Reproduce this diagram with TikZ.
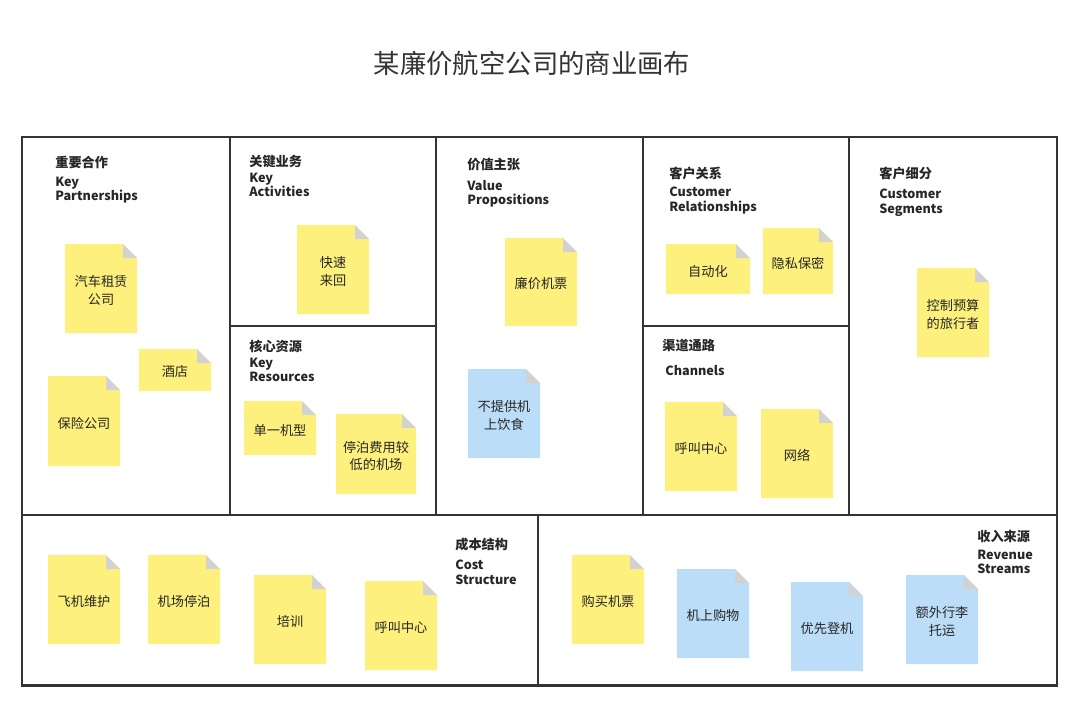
\documentclass[tikz,border=0pt]{standalone}
\usepackage{fontspec}
\setmainfont{Noto Sans CJK SC}
\definecolor{noteyellow}{HTML}{FDF07C}
\definecolor{noteblue}{HTML}{BCDDF7}
\definecolor{frame}{HTML}{333333}
% sticky note: name, x1, y1, x2, y2, colour, text
\newcommand\note[7]{%
  \fill[#6] (#2,#3) -- (#4-14,#3) -- (#4,#3+14) -- (#4,#5) -- (#2,#5) -- cycle;
  \fill[gray!35] (#4-14,#3) -- (#4-14,#3+14) -- (#4,#3+14) -- cycle;
  \node[notetext] (#1) at ({(#2+#4)/2},{(#3+#5)/2+2}) {#7};}
\begin{document}
\begin{tikzpicture}[x=0.02cm,y=-0.02cm,
    notetext/.style={font=\fontsize{7.5}{10}\selectfont, align=center, text=black!85},
    head/.style={anchor=west, font=\fontsize{7.5}{8}\selectfont\bfseries, text=black!85, inner sep=0pt},
    eng/.style={anchor=north west, align=left, font=\fontsize{7.2}{8}\selectfont\bfseries, text=black!85, inner sep=0pt},
    box/.style={draw=frame, line width=1.7pt}]
\useasboundingbox (0,0) rectangle (1080,707);
\node[font=\fontsize{15}{18}\selectfont, text=black!80] (title) at (532,63) {某廉价航空公司的商业画布};

% canvas frame
\draw[box] (22,137) rectangle (1057,685);
\draw[box] (22,515) -- (1057,515);
\draw[box] (230,137) -- (230,515);
\draw[box] (436,137) -- (436,515);
\draw[box] (643,137) -- (643,515);
\draw[box] (849,137) -- (849,515);
\draw[box] (230,326) -- (436,326);
\draw[box] (643,326) -- (849,326);
\draw[box] (538,515) -- (538,685);

% headings
\node[head] (kp) at (55,162) {重要合作};
\node[eng] (kpe) at (55,177) {Key\\Partnerships};
\node[head] (ka) at (249,162) {关键业务};
\node[eng] (kae) at (249,173) {Key\\Activities};
\node[head] (vp) at (467,165) {价值主张};
\node[eng] (vpe) at (467,180) {Value\\Propositions};
\node[head] (cr) at (669,173) {客户关系};
\node[eng] (cre) at (669,187) {Customer\\Relationships};
\node[head] (cs) at (879,173) {客户细分};
\node[eng] (cse) at (879,189) {Customer\\Segments};
\node[head] (kr) at (249,346) {核心资源};
\node[eng] (kre) at (249,358) {Key\\Resources};
\node[head] (ch) at (662,346) {渠道通路};
\node[eng] (che) at (665,365) {Channels};
\node[head] (co) at (455,544) {成本结构};
\node[eng] (coe) at (455,560) {Cost\\Structure};
\node[head] (rs) at (977,537) {收入来源};
\node[eng] (rse) at (977,550) {Revenue\\Streams};

% notes
\note{car}{65}{244}{137}{333}{noteyellow}{汽车租赁\\公司}
\note{hotel}{139}{349}{211}{391}{noteyellow}{酒店}
\note{insur}{48}{376}{120}{466}{noteyellow}{保险公司}
\note{quick}{297}{225}{369}{314}{noteyellow}{快速\\来回}
\note{fleet}{244}{401}{316}{455}{noteyellow}{单一机型}
\note{airport}{336}{414}{416}{494}{noteyellow}{停泊费用较\\低的机场}
\note{cheap}{505}{238}{577}{326}{noteyellow}{廉价机票}
\note{nofood}{468}{369}{540}{458}{noteblue}{不提供机\\上饮食}
\note{auto}{666}{244}{750}{294}{noteyellow}{自动化}
\note{privacy}{763}{228}{833}{294}{noteyellow}{隐私保密}
\note{call}{665}{402}{737}{491}{noteyellow}{呼叫中心}
\note{web}{761}{409}{833}{498}{noteyellow}{网络}
\note{budget}{917}{268}{989}{357}{noteyellow}{控制预算\\的旅行者}
\note{maint}{48}{555}{120}{644}{noteyellow}{飞机维护}
\note{park}{148}{555}{220}{644}{noteyellow}{机场停泊}
\note{train}{254}{575}{326}{664}{noteyellow}{培训}
\note{callcost}{365}{581}{437}{670}{noteyellow}{呼叫中心}
\note{ticket}{572}{555}{644}{644}{noteyellow}{购买机票}
\note{shop}{677}{569}{749}{658}{noteblue}{机上购物}
\note{board}{791}{582}{863}{671}{noteblue}{优先登机}
\note{bag}{906}{575}{978}{664}{noteblue}{额外行李\\托运}
\end{tikzpicture}
\end{document}
